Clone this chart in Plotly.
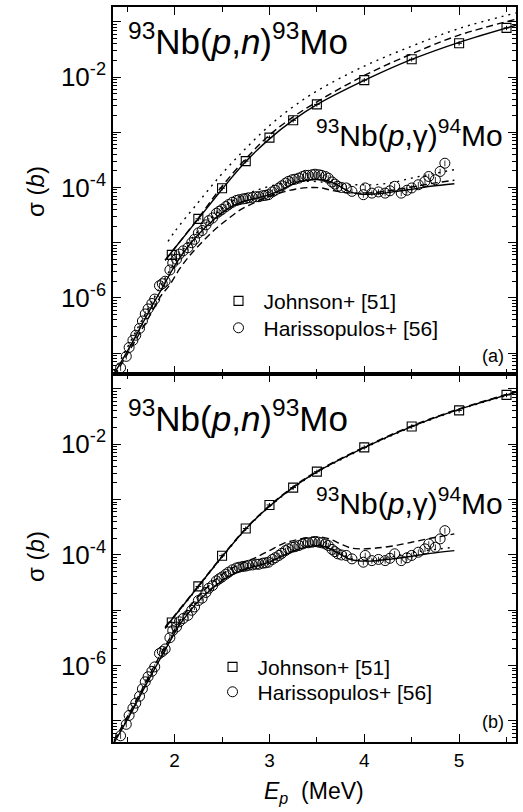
import plotly.graph_objects as go

# ---------------- data ----------------
# Johnson+ [51]  93Nb(p,n)93Mo
E_johnson = [1.97, 2.25, 2.5, 2.75, 3.0, 3.25, 3.5, 4.0, 4.5, 5.0, 5.5]
sig_johnson = [6.0e-6, 2.7e-5, 9.7e-5, 3.0e-4, 8.0e-4, 1.65e-3, 3.2e-3, 8.8e-3, 2.1e-2, 4.1e-2, 7.8e-2]

# Harissopulos+ [56]  93Nb(p,g)94Mo
E_haris = [1.43, 1.49, 1.52, 1.56, 1.59, 1.63, 1.66, 1.69, 1.72, 1.76, 1.79, 1.84, 1.87, 1.90,
           1.95, 1.98, 2.02, 2.05, 2.09, 2.14, 2.18, 2.21, 2.25, 2.29, 2.33, 2.36, 2.40, 2.44,
           2.47, 2.50, 2.54, 2.57, 2.61, 2.65, 2.68, 2.72, 2.75, 2.78, 2.82, 2.86, 2.89, 2.93,
           2.96, 2.99, 3.03, 3.06, 3.10, 3.13, 3.17, 3.20, 3.24, 3.27, 3.31, 3.35, 3.38, 3.41,
           3.45, 3.48, 3.52, 3.55, 3.59, 3.62, 3.66, 3.69, 3.72, 3.76, 3.81, 3.87, 3.99, 4.01,
           4.08, 4.15, 4.22, 4.27, 4.32, 4.39, 4.45, 4.50, 4.57, 4.64, 4.68, 4.75, 4.80, 4.85]
sig_haris = [5.4e-8, 8.7e-8, 1.26e-7, 1.7e-7, 2.1e-7, 2.8e-7, 3.8e-7, 5.1e-7, 6.3e-7, 7.9e-7, 9.5e-7, 1.66e-6, 1.8e-6, 2.0e-6,
             3.2e-6, 4.3e-6, 5.0e-6, 6.2e-6, 7.1e-6, 8.1e-6, 1.0e-5, 1.15e-5, 1.5e-5, 1.66e-5, 2.1e-5, 2.5e-5, 2.8e-5, 3.4e-5,
             3.7e-5, 4.0e-5, 4.5e-5, 4.9e-5, 5.4e-5, 5.8e-5, 6.0e-5, 6.2e-5, 6.3e-5, 6.5e-5, 6.6e-5, 6.8e-5, 6.8e-5, 7.1e-5,
             7.2e-5, 7.4e-5, 8.3e-5, 8.9e-5, 9.8e-5, 1.07e-4, 1.2e-4, 1.29e-4, 1.38e-4, 1.41e-4, 1.48e-4, 1.58e-4, 1.66e-4, 1.66e-4,
             1.7e-4, 1.74e-4, 1.7e-4, 1.66e-4, 1.58e-4, 1.48e-4, 1.26e-4, 1.15e-4, 1.05e-4, 1.0e-4, 9.8e-5, 8.5e-5, 7.4e-5, 9.8e-5,
             7.9e-5, 8.3e-5, 7.9e-5, 8.7e-5, 1.05e-4, 7.9e-5, 8.9e-5, 9.8e-5, 1.12e-4, 1.29e-4, 1.58e-4, 1.38e-4, 1.95e-4, 2.75e-4]

# model curves, (p,n)
E_pn = [1.90, 2.0, 2.25, 2.5, 2.75, 3.0, 3.25, 3.5, 4.0, 4.5, 5.0, 5.6]
pn_solid_a = [4.8e-6, 7.9e-6, 2.7e-5, 9.3e-5, 2.95e-4, 7.6e-4, 1.66e-3, 3.16e-3, 8.7e-3, 2.09e-2, 4.27e-2, 8.7e-2]
pn_dash_a = [4.8e-6, 7.9e-6, 2.8e-5, 1.05e-4, 3.3e-4, 8.9e-4, 1.9e-3, 3.55e-3, 1.07e-2, 2.63e-2, 5.75e-2, 1.12e-1]
E_pn_dot = [1.93, 2.0, 2.25, 2.5, 2.75, 3.0, 3.25, 3.5, 4.0, 4.5, 5.0, 5.6]
pn_dot_a = [1.05e-5, 1.58e-5, 5.4e-5, 1.78e-4, 5.1e-4, 1.32e-3, 2.9e-3, 5.6e-3, 1.58e-2, 3.63e-2, 7.6e-2, 1.45e-1]
pn_solid_b = [4.8e-6, 7.9e-6, 2.7e-5, 9.3e-5, 2.95e-4, 7.6e-4, 1.66e-3, 3.16e-3, 8.7e-3, 2.09e-2, 4.27e-2, 8.7e-2]
pn_dash_b = [5.0e-6, 8.1e-6, 2.75e-5, 9.5e-5, 3.0e-4, 7.8e-4, 1.7e-3, 3.24e-3, 8.9e-3, 2.14e-2, 4.37e-2, 8.9e-2]
pn_dot_b = [4.7e-6, 7.7e-6, 2.65e-5, 9.1e-5, 2.9e-4, 7.45e-4, 1.62e-3, 3.1e-3, 8.5e-3, 2.05e-2, 4.2e-2, 8.5e-2]

# model curves, (p,g)
E_pg = [1.36, 1.45, 1.55, 1.65, 1.75, 1.85, 1.95, 2.05, 2.15, 2.25, 2.4, 2.55, 2.7, 2.85,
        3.0, 3.15, 3.3, 3.45, 3.55, 3.65, 3.75, 3.85, 3.95, 4.1, 4.3, 4.5, 4.7, 4.95]
pg_solid_a = [4.2e-8, 7.6e-8, 1.51e-7, 3.16e-7, 6.6e-7, 1.32e-6, 2.7e-6, 5.2e-6, 8.9e-6, 1.41e-5, 2.5e-5, 4.0e-5, 5.4e-5, 6.3e-5,
              7.4e-5, 9.5e-5, 1.26e-4, 1.38e-4, 1.38e-4, 1.26e-4, 1.02e-4, 8.3e-5, 7.6e-5, 7.6e-5, 8.3e-5, 9.3e-5, 1.05e-4, 1.17e-4]
pg_dash_a = [3.8e-8, 6.8e-8, 1.32e-7, 2.6e-7, 5.2e-7, 1.05e-6, 1.74e-6, 3.3e-6, 5.6e-6, 8.7e-6, 1.58e-5, 2.6e-5, 4.0e-5, 5.4e-5,
             6.9e-5, 8.3e-5, 9.5e-5, 1.0e-4, 9.8e-5, 8.9e-5, 8.3e-5, 7.9e-5, 7.9e-5, 8.1e-5, 8.9e-5, 1.02e-4, 1.17e-4, 1.35e-4]
pg_dot_a = [4.7e-8, 8.7e-8, 1.82e-7, 3.8e-7, 7.9e-7, 1.62e-6, 3.16e-6, 6.0e-6, 1.02e-5, 1.62e-5, 2.95e-5, 4.8e-5, 6.9e-5, 8.7e-5,
            1.05e-4, 1.2e-4, 1.29e-4, 1.29e-4, 1.26e-4, 1.2e-4, 1.15e-4, 1.12e-4, 1.12e-4, 1.12e-4, 1.23e-4, 1.48e-4, 1.74e-4, 2.1e-4]
pg_solid_b = [4.0e-8, 7.4e-8, 1.51e-7, 3.16e-7, 6.6e-7, 1.35e-6, 2.75e-6, 5.4e-6, 9.1e-6, 1.45e-5, 2.5e-5, 3.9e-5, 5.2e-5, 6.2e-5,
              7.4e-5, 9.8e-5, 1.26e-4, 1.45e-4, 1.45e-4, 1.26e-4, 1.02e-4, 8.3e-5, 7.8e-5, 7.8e-5, 8.5e-5, 9.5e-5, 1.07e-4, 1.2e-4]
pg_dash_b = [4.4e-8, 8.3e-8, 1.7e-7, 3.55e-7, 7.6e-7, 1.58e-6, 3.16e-6, 6.2e-6, 1.1e-5, 1.78e-5, 3.2e-5, 5.1e-5, 6.9e-5, 8.9e-5,
             1.2e-4, 1.62e-4, 1.9e-4, 2.1e-4, 2.1e-4, 1.9e-4, 1.58e-4, 1.35e-4, 1.29e-4, 1.32e-4, 1.45e-4, 1.7e-4, 2.0e-4, 2.4e-4]
pg_dot_b = [4.1e-8, 7.6e-8, 1.55e-7, 3.3e-7, 6.9e-7, 1.41e-6, 2.9e-6, 5.6e-6, 9.5e-6, 1.5e-5, 2.6e-5, 4.1e-5, 5.4e-5, 6.5e-5,
            7.8e-5, 1.02e-4, 1.32e-4, 1.51e-4, 1.51e-4, 1.32e-4, 1.07e-4, 8.7e-5, 8.1e-5, 8.1e-5, 9.3e-5, 1.1e-4, 1.23e-4, 1.38e-4]

y_decades = [-7, -6, -5, -4, -3, -2, -1]
y_ticklabels = ["", "10<sup>-6</sup>", "", "10<sup>-4</sup>", "", "10<sup>-2</sup>", ""]
x_ticks = [2, 3, 4, 5]
x_minor = [1.5, 2.5, 3.5, 4.5, 5.5]

# ---------------- figure ----------------
W, H = 523, 812
L, R, T, B = 113, 5, 5, 70
FONT = "Liberation Sans, Arial, Helvetica, sans-serif"

def px(xp):
    return (xp - L) / (W - L - R)

def py(yp):
    return (H - B - yp) / (H - T - B)

fig = go.Figure()
DASH = "7px,4px"
DOT = "2px,5px"

def curve(x, y, dash, ax):
    fig.add_trace(go.Scatter(x=x, y=y, mode="lines", line=dict(color="black", width=1.4, dash=dash, shape="spline", smoothing=1.0),
                             xaxis="x" + ax, yaxis="y" + ax, showlegend=False, hoverinfo="skip"))

for ax, sets in [("", [(E_pn, pn_solid_a, "solid"), (E_pn, pn_dash_a, DASH), (E_pn_dot, pn_dot_a, DOT),
                       (E_pg, pg_solid_a, "solid"), (E_pg, pg_dash_a, DASH), (E_pg, pg_dot_a, DOT)]),
                 ("2", [(E_pn, pn_solid_b, "solid"), (E_pn, pn_dash_b, DASH), (E_pn, pn_dot_b, DOT),
                        (E_pg, pg_solid_b, "solid"), (E_pg, pg_dash_b, DASH), (E_pg, pg_dot_b, DOT)])]:
    for x, y, d in sets:
        curve(x, y, d, ax)

for ax, legj, legh in [("", "legend", "legend2"), ("2", "legend3", "legend4")]:
    fig.add_trace(go.Scatter(x=E_johnson, y=sig_johnson, mode="markers", name="Johnson+ [51]",
                             marker=dict(symbol="square-open", size=9, color="black", line=dict(width=1.1)),
                             error_y=dict(type="percent", value=9, thickness=1, width=0, color="black"),
                             error_x=dict(type="constant", value=0.03, thickness=1, width=0, color="black"),
                             xaxis="x" + ax, yaxis="y" + ax, legend=legj))
    fig.add_trace(go.Scatter(x=E_haris, y=sig_haris, mode="markers", name="Harissopulos+ [56]",
                             marker=dict(symbol="circle-open", size=10, color="black", line=dict(width=1.0)),
                             error_y=dict(type="percent", value=12, thickness=0.8, width=0, color="black"),
                             xaxis="x" + ax, yaxis="y" + ax, legend=legh))

xcommon = dict(range=[1.35, 5.6], showline=True, linecolor="black", linewidth=1.6, mirror="allticks",
               ticks="inside", ticklen=8, tickwidth=1.4, tickcolor="black",
               tickmode="array", tickvals=x_ticks, ticktext=[str(v) for v in x_ticks],
               minor=dict(ticks="inside", ticklen=5, tickwidth=1.2, tickcolor="black", tickmode="array", tickvals=x_minor),
               showgrid=False, zeroline=False, tickfont=dict(size=19, color="black", family=FONT))

minor_y = [k * 10.0 ** d for d in range(-8, 1) for k in range(2, 10)]
ycommon = dict(type="log", range=[-7.38, -0.73], showline=True, linecolor="black", linewidth=1.6, mirror="allticks",
               ticks="inside", ticklen=8, tickwidth=1.4, tickcolor="black",
               tickmode="array", tickvals=[10.0 ** d for d in y_decades], ticktext=y_ticklabels,
               minor=dict(ticks="inside", ticklen=4, tickwidth=1.0, tickcolor="black", tickmode="array", tickvals=minor_y),
               showgrid=False, zeroline=False, tickfont=dict(size=26, color="black", family=FONT))

split = py(373)

def legend_at(xp, yp):
    return dict(x=px(xp), y=py(yp), xanchor="left", yanchor="middle", font=dict(size=21, family=FONT),
                bgcolor="rgba(0,0,0,0)", itemwidth=40, borderwidth=0)

fig.update_layout(
    width=W, height=H, margin=dict(l=L, r=R, t=T, b=B),
    paper_bgcolor="white", plot_bgcolor="white",
    font=dict(family=FONT, color="black"),
    xaxis=dict(**xcommon, domain=[0, 1], anchor="y", showticklabels=False),
    yaxis=dict(**ycommon, domain=[split, 1], anchor="x"),
    xaxis2=dict(**xcommon, domain=[0, 1], anchor="y2"),
    yaxis2=dict(**ycommon, domain=[0, split], anchor="x2"),
    legend=legend_at(214, 300),
    legend2=legend_at(214, 327),
    legend3=legend_at(208, 667),
    legend4=legend_at(208, 692),
)

ann = []
def label(text, xp, yp, size, xanchor="left", yanchor="middle", angle=0, family=FONT):
    ann.append(dict(text=text, x=px(xp), y=py(yp), xref="paper", yref="paper", showarrow=False,
                    xanchor=xanchor, yanchor=yanchor, textangle=angle, font=dict(size=size, family=family, color="black")))

pn_text = "<sup>93</sup>Nb(<i>p</i>,<i>n</i>)<sup>93</sup>Mo"
pg_text = "<sup>93</sup>Nb(<i>p</i>,γ)<sup>94</sup>Mo"
label(pn_text, 126, 37, 35)
label(pg_text, 507, 131, 30, xanchor="right")
label(pn_text, 126, 415, 35)
label(pg_text, 507, 500, 30, xanchor="right")
label("(a)", 508, 355, 18, xanchor="right")
label("(b)", 508, 722, 18, xanchor="right")
label("σ (<i>b</i>)", 35, 190, 24, xanchor="center", angle=-90)
label("σ (<i>b</i>)", 35, 556, 24, xanchor="center", angle=-90)
label("<i>E<sub>p</sub></i>  (MeV)", 315, 793, 23, xanchor="center")
fig.update_layout(annotations=ann)

fig.write_html("out.html")
